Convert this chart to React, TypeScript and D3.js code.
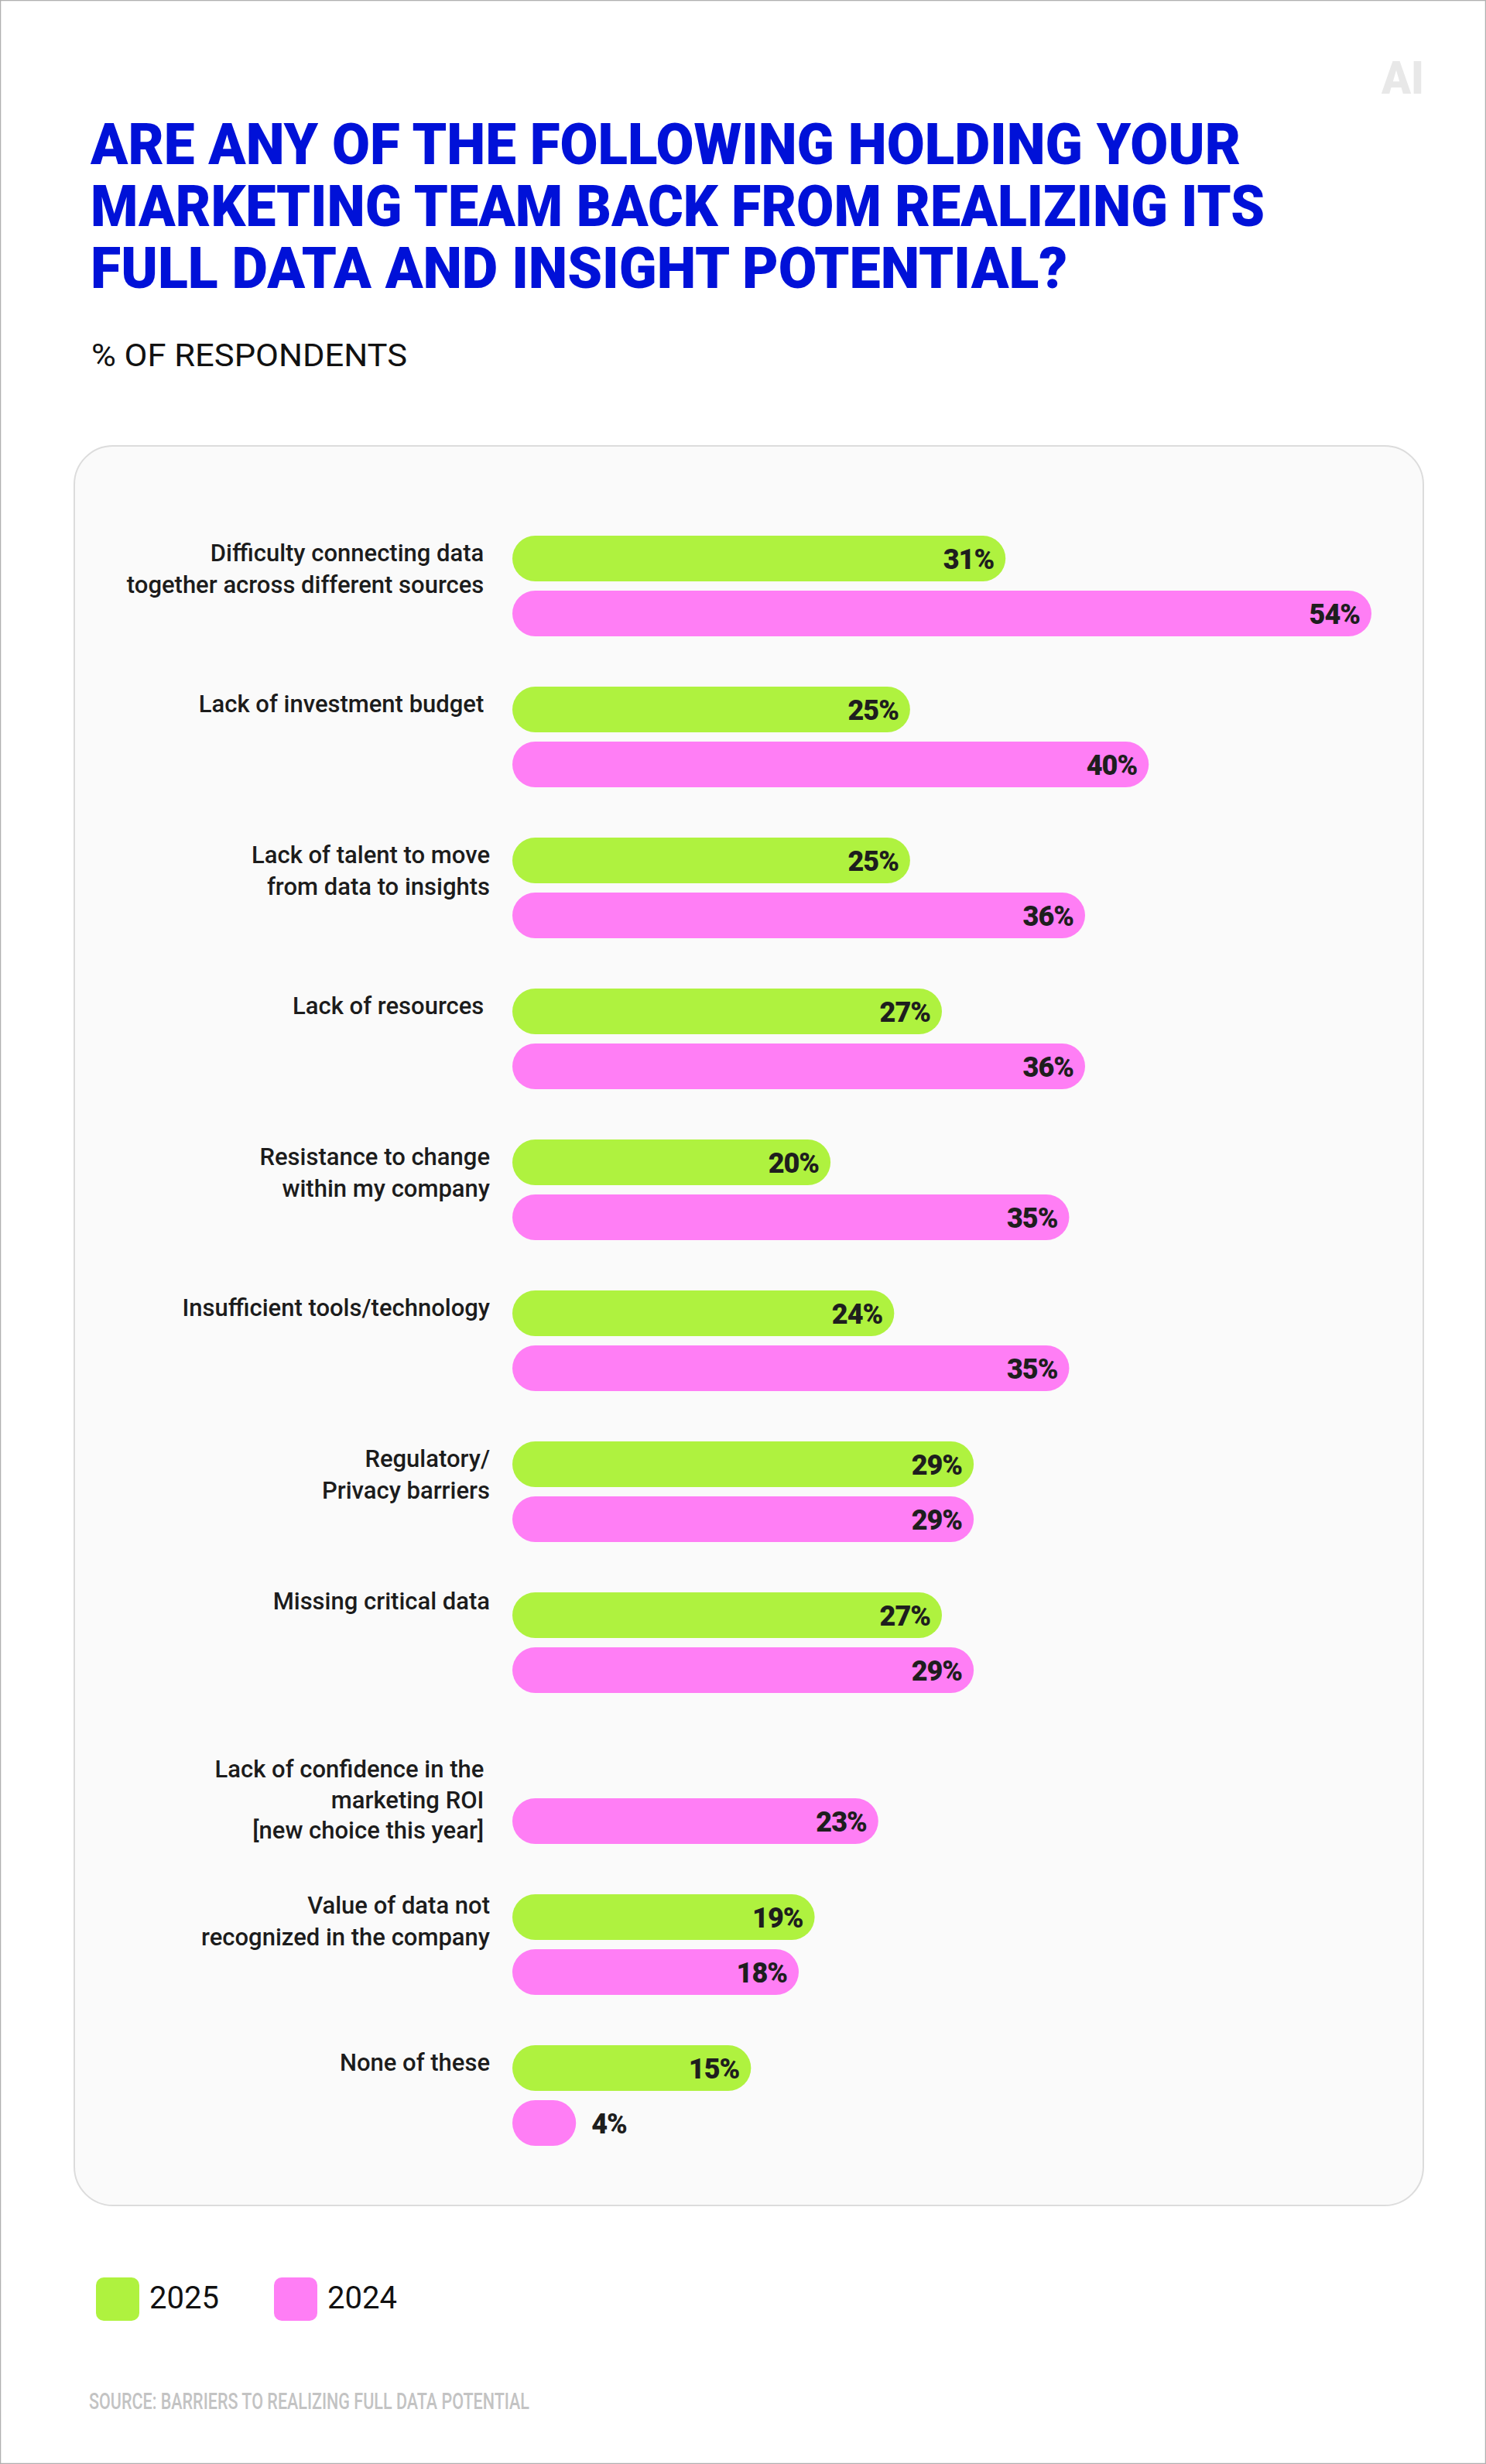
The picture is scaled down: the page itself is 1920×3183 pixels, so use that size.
import React from 'react';
import * as d3 from 'd3';

// ---- Data ----
const titleLines = [
  'ARE ANY OF THE FOLLOWING HOLDING YOUR',
  'MARKETING TEAM BACK FROM REALIZING ITS',
  'FULL DATA AND INSIGHT POTENTIAL?',
];
const subtitle = '% OF RESPONDENTS';
const sourceNote = 'SOURCE: BARRIERS TO REALIZING FULL DATA POTENTIAL';
const brandMark = 'AI';

const categories: string[][] = [
  ['Difficulty connecting data ', 'together across different sources '],
  ['Lack of investment budget '],
  ['Lack of talent to move', 'from data to insights'],
  ['Lack of resources '],
  ['Resistance to change', 'within my company'],
  ['Insufficient tools/technology'],
  ['Regulatory/', 'Privacy barriers'],
  ['Missing critical data'],
  ['Lack of confidence in the ', 'marketing ROI ', '[new choice this year] '],
  ['Value of data not', 'recognized in the company'],
  ['None of these'],
];

const seriesNames = ['2025', '2024'];
const values2025: (number | null)[] = [31, 25, 25, 27, 20, 24, 29, 27, null, 19, 15];
const values2024: (number | null)[] = [54, 40, 36, 36, 35, 35, 29, 29, 23, 18, 4];
const seriesColors = ['#aff23f', '#ff7ef5'];

// ---- Layout ----
const W = 1920;
const H = 3183;
const BLUE = '#0011d8';
const INK = '#1c1c1c';

const x = d3.scaleLinear().domain([0, 54]).range([662, 1772]);
const y = d3
  .scaleBand<number>()
  .domain(d3.range(categories.length))
  .range([692, 692 + 195 * categories.length])
  .paddingInner(0)
  .paddingOuter(0);
const ySub = d3.scaleBand<string>().domain(seriesNames).range([0, 130]).paddingInner(12 / 71);

// small vertical nudges for a few category labels
const labelNudge: Record<number, number> = { 7: -11, 8: 11, 9: -8 };

export default function App() {
  const seriesValues = [values2025, values2024];
  const bw = ySub.bandwidth();
  const titleWidths = [1486, 1517, 1262];

  return (
    <div>
      <style>{'body{margin:0;} svg{display:block;}'}</style>
      <svg width={W} height={H} viewBox={`0 0 ${W} ${H}`} fontFamily="Roboto, 'Noto Sans', sans-serif">
        <rect x={0.5} y={0.5} width={W - 1} height={H - 1} fill="#ffffff" stroke="#b0b0b0" strokeWidth={1.5} />

        {/* brand mark */}
        <text x={1785} y={121} fontSize={60} fontWeight={900} fill="#e8e8e8" textLength={55} lengthAdjust="spacingAndGlyphs">
          {brandMark}
        </text>

        {/* title */}
        {titleLines.map((t, i) => (
          <text
            key={i}
            x={117}
            y={212 + i * 80}
            fontSize={74}
            fontWeight={900}
            fill={BLUE}
            textLength={titleWidths[i]}
            lengthAdjust="spacingAndGlyphs"
          >
            {t}
          </text>
        ))}

        <text x={118} y={473} fontSize={40} fontWeight={400} fill="#111" textLength={408} lengthAdjust="spacingAndGlyphs">
          {subtitle}
        </text>

        {/* panel */}
        <rect x={96} y={576} width={1743} height={2273} rx={50} ry={50} fill="#fafafa" stroke="#dcdcdc" strokeWidth={2} />

        {/* category labels */}
        {categories.map((lines, i) => {
          const top = (y(i) as number) + 33 + (labelNudge[i] || 0);
          const lh = lines.length > 2 ? 39.5 : 41;
          return (
            <text key={i} fontSize={31} fontWeight={500} fill={INK} textAnchor="end" style={{ whiteSpace: 'pre' }}>
              {lines.map((ln, j) => (
                <tspan key={j} x={633} y={top + j * lh}>
                  {ln}
                </tspan>
              ))}
            </text>
          );
        })}

        {/* bars */}
        {categories.map((_, i) => (
          <g key={i}>
            {seriesNames.map((s, k) => {
              const v = seriesValues[k][i];
              if (v == null) return null;
              const by = (y(i) as number) + (ySub(s) as number);
              const w = x(v) - x(0);
              const inside = w > 110;
              return (
                <g key={s}>
                  <rect x={x(0)} y={by} width={w} height={bw} rx={bw / 2} ry={bw / 2} fill={seriesColors[k]} />
                  <text
                    x={inside ? x(v) - 15 : x(v) + 20}
                    y={by + bw / 2 + 13}
                    textAnchor={inside ? 'end' : 'start'}
                    fontSize={36}
                    fontWeight={900}
                    fill="#1e1e1e"
                    letterSpacing={-1}
                  >
                    {`${v}%`}
                  </text>
                </g>
              );
            })}
          </g>
        ))}

        {/* legend */}
        {seriesNames.map((s, k) => (
          <g key={s} transform={`translate(${124 + k * 230},2942)`}>
            <rect width={56} height={56} rx={10} ry={10} fill={seriesColors[k]} />
            <text x={69} y={40} fontSize={40} fontWeight={400} fill="#111">
              {s}
            </text>
          </g>
        ))}

        {/* source */}
        <text x={115} y={3112} fontSize={29} fontWeight={500} fill="#c3c3c3" textLength={569} lengthAdjust="spacingAndGlyphs">
          {sourceNote}
        </text>
      </svg>
    </div>
  );
}
